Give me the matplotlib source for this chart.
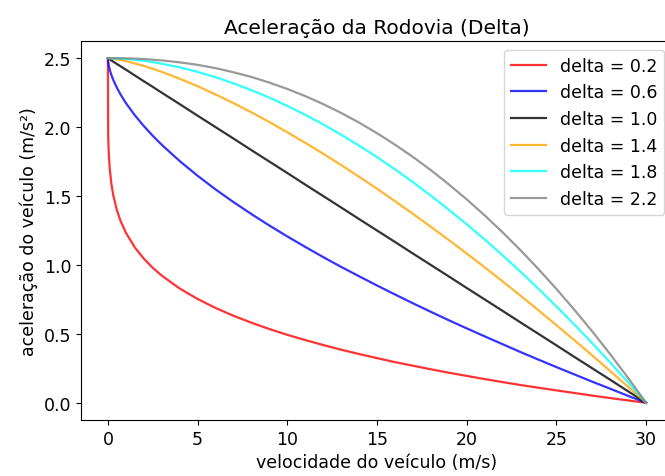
import matplotlib
matplotlib.use("Agg")
import matplotlib.pyplot as plt

# velocidade (m/s)
vel = [0, 0.015, 0.03, 0.05, 0.1, 0.2, 0.3, 0.5, 0.7, 1,
       1.5, 2, 2.5, 3, 4, 5, 6, 7, 8, 9,
       10, 11, 12, 13, 14, 15, 16, 17, 18, 19,
       20, 21, 22, 23, 24, 25, 26, 27, 28, 29, 30]

acc_d02 = [2.5, 1.953, 1.872, 1.805, 1.701, 1.582, 1.505, 1.398, 1.321, 1.234,
           1.127, 1.046, 0.979, 0.923, 0.829, 0.753, 0.688, 0.631, 0.581, 0.535,
           0.493, 0.455, 0.419, 0.385, 0.354, 0.324, 0.295, 0.269, 0.243, 0.218,
           0.195, 0.172, 0.150, 0.129, 0.109, 0.090, 0.071, 0.052, 0.034, 0.017, 0.0]
acc_d06 = [2.5, 2.474, 2.460, 2.446, 2.418, 2.376, 2.342, 2.286, 2.238, 2.175,
           2.086, 2.008, 1.937, 1.872, 1.754, 1.647, 1.548, 1.456, 1.369, 1.286,
           1.207, 1.131, 1.057, 0.986, 0.918, 0.851, 0.786, 0.722, 0.660, 0.599,
           0.540, 0.482, 0.425, 0.368, 0.313, 0.259, 0.206, 0.153, 0.102, 0.050, 0.0]
acc_d10 = [2.5, 2.499, 2.498, 2.496, 2.492, 2.483, 2.475, 2.458, 2.442, 2.417,
           2.375, 2.333, 2.292, 2.250, 2.167, 2.083, 2.000, 1.917, 1.833, 1.750,
           1.667, 1.583, 1.500, 1.417, 1.333, 1.250, 1.167, 1.083, 1.000, 0.917,
           0.833, 0.750, 0.667, 0.583, 0.500, 0.417, 0.333, 0.250, 0.167, 0.083, 0.0]
acc_d14 = [2.5, 2.500, 2.500, 2.500, 2.499, 2.498, 2.496, 2.492, 2.487, 2.479,
           2.462, 2.444, 2.423, 2.401, 2.351, 2.297, 2.237, 2.174, 2.107, 2.037,
           1.963, 1.886, 1.807, 1.725, 1.640, 1.553, 1.463, 1.371, 1.277, 1.181,
           1.083, 0.983, 0.881, 0.777, 0.671, 0.563, 0.454, 0.343, 0.230, 0.116, 0.0]
acc_d18 = [2.5, 2.500, 2.500, 2.500, 2.500, 2.500, 2.499, 2.498, 2.497, 2.495,
           2.489, 2.481, 2.472, 2.460, 2.434, 2.401, 2.362, 2.318, 2.268, 2.214,
           2.154, 2.089, 2.020, 1.945, 1.866, 1.782, 1.694, 1.601, 1.503, 1.401,
           1.295, 1.185, 1.070, 0.951, 0.827, 0.699, 0.568, 0.432, 0.292, 0.148, 0.0]
acc_d22 = [2.5, 2.500, 2.500, 2.500, 2.500, 2.500, 2.500, 2.500, 2.499, 2.499,
           2.497, 2.494, 2.489, 2.484, 2.470, 2.452, 2.428, 2.398, 2.364, 2.323,
           2.277, 2.225, 2.167, 2.103, 2.033, 1.956, 1.873, 1.784, 1.688, 1.585,
           1.476, 1.360, 1.237, 1.107, 0.970, 0.826, 0.675, 0.518, 0.352, 0.180, 0.0]

series = [acc_d02, acc_d06, acc_d10, acc_d14, acc_d18, acc_d22]
labels = ['delta = 0.2', 'delta = 0.6', 'delta = 1.0',
          'delta = 1.4', 'delta = 1.8', 'delta = 2.2']
cores = ['red', 'blue', 'black', 'orange', 'cyan', 'gray']

fig = plt.figure(figsize=(6.65, 4.77), dpi=100)
ax = fig.add_axes([0.1218, 0.1174, 0.8902, 0.7946])

for acc, lab, c in zip(series, labels, cores):
    ax.plot(vel, acc, color=c, alpha=0.8, lw=1.6, label=lab)

ax.set_title('Aceleração da Rodovia (Delta)', fontsize=14.5)
ax.set_xlabel('velocidade do veículo (m/s)', fontsize=12.5)
ax.set_ylabel('aceleração do veículo (m/s²)', fontsize=12.5)
ax.tick_params(labelsize=12.5)
ax.legend(fontsize=12.5, loc='upper right')

fig.savefig('out.png', dpi=100)
